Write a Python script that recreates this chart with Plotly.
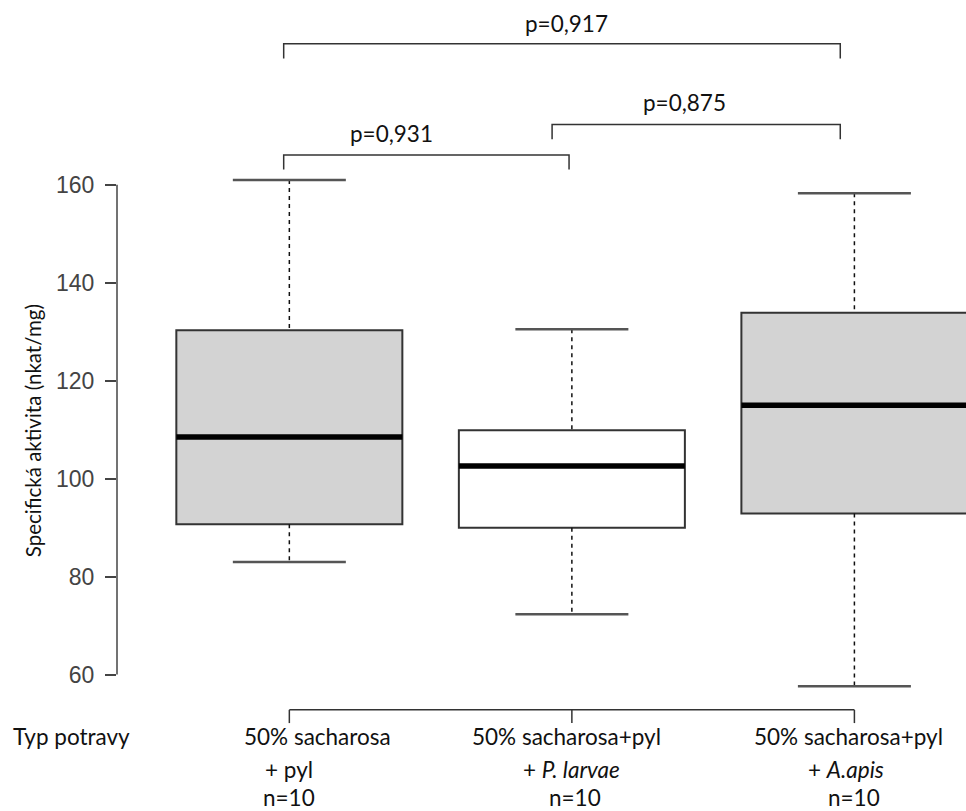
import plotly.graph_objects as go

# ---- data ----
group_line1 = ["50% sacharosa", "50% sacharosa+pyl", "50% sacharosa+pyl"]
group_line2 = ["+ pyl", "+ <i>P. larvae</i>", "+ <i>A.apis</i>"]
group_n = ["n=10", "n=10", "n=10"]
q1 = [90.7, 90.0, 92.9]
median = [108.5, 102.6, 115.0]
q3 = [130.3, 109.9, 133.9]
whisker_low = [83.0, 72.3, 57.6]
whisker_high = [161.0, 130.5, 158.3]
fill_colors = ["#D3D3D3", "#FFFFFF", "#D3D3D3"]
p_labels = ["p=0,931", "p=0,875", "p=0,917"]
y_ticks = [60, 80, 100, 120, 140, 160]

# ---- style constants ----
BOX_W = 0.8
CAP_W = 0.4
TXT_FONT = "Lato, 'Open Sans', sans-serif"
TICK_FONT = "'Liberation Sans', Arial, sans-serif"
LINE_C = "#333333"
TXT_SIZE = 22.5

fig = go.Figure()
xs = list(range(len(q1)))

# dashed whiskers
for i in xs:
    fig.add_trace(go.Scatter(
        x=[i, i, None, i, i],
        y=[whisker_high[i], q3[i], None, q1[i], whisker_low[i]],
        mode="lines", line=dict(color="#111111", width=1.5, dash="4px,4px"),
        hoverinfo="skip", showlegend=False))
    # staples
    fig.add_trace(go.Scatter(
        x=[i - CAP_W / 2, i + CAP_W / 2, None, i - CAP_W / 2, i + CAP_W / 2],
        y=[whisker_high[i], whisker_high[i], None, whisker_low[i], whisker_low[i]],
        mode="lines", line=dict(color="#555555", width=2.5),
        hoverinfo="skip", showlegend=False))

# boxes
for i in xs:
    fig.add_trace(go.Box(
        x=[i], q1=[q1[i]], median=[median[i]], q3=[q3[i]],
        lowerfence=[q1[i]], upperfence=[q3[i]],
        width=BOX_W, fillcolor=fill_colors[i],
        line=dict(color=LINE_C, width=2), whiskerwidth=0,
        boxpoints=False, hoverinfo="skip", showlegend=False))

# thick medians
for i in xs:
    fig.add_trace(go.Scatter(
        x=[i - BOX_W / 2, i + BOX_W / 2], y=[median[i], median[i]],
        mode="lines", line=dict(color="#000000", width=5.5),
        hoverinfo="skip", showlegend=False))

shapes = []
annotations = []

# y axis line (only over tick span)
shapes.append(dict(type="line", xref="paper", yref="y", x0=0, x1=0,
                   y0=min(y_ticks), y1=max(y_ticks),
                   line=dict(color="#444444", width=1.5)))

# comparison brackets: (start, end, bar height, leg drop, label, label x, label y)
brackets = [
    (-0.02, 0.99, 166.1, 3.0, p_labels[0], 0.36, 170.4),
    (0.93, 1.95, 172.3, 3.0, p_labels[1], 1.40, 176.8),
    (-0.02, 1.95, 188.8, 3.0, p_labels[2], 0.98, 192.9),
]
for a, b, h, d, lab, lx, ly in brackets:
    shapes.append(dict(type="path", xref="x", yref="y",
                       path=f"M {a},{h-d} L {a},{h} L {b},{h} L {b},{h-d}",
                       line=dict(color=LINE_C, width=1.5)))
    annotations.append(dict(x=lx, y=ly, xref="x", yref="y", text=lab,
                            showarrow=False, xanchor="center", yanchor="middle",
                            font=dict(family=TXT_FONT, size=TXT_SIZE, color="#111111")))

# bottom group axis
AX_Y = 52.8
AX_T = 2.7
shapes.append(dict(type="line", xref="x", yref="y", x0=xs[0], x1=xs[-1],
                   y0=AX_Y, y1=AX_Y, line=dict(color=LINE_C, width=1.5)))
for i in xs:
    shapes.append(dict(type="line", xref="x", yref="y", x0=i, x1=i,
                       y0=AX_Y, y1=AX_Y - AX_T, line=dict(color=LINE_C, width=1.5)))

line1_dx = [0.10, -0.02, -0.02]
line2_dx = [0.0, 0.0, -0.03]
line3_dx = [0.0, 0.01, 0.0]
for i in xs:
    for txt, dx, yy in [(group_line1[i], line1_dx[i], 47.3),
                        (group_line2[i], line2_dx[i], 40.6),
                        (group_n[i], line3_dx[i], 34.9)]:
        annotations.append(dict(x=i + dx, y=yy, xref="x", yref="y", text=txt,
                                showarrow=False, xanchor="center", yanchor="middle",
                                font=dict(family=TXT_FONT, size=TXT_SIZE, color="#111111")))

# labels left of the plot area (paper x: pixel offset from left margin / plot width)
PLOT_W = 966 - 117
annotations.append(dict(x=(71 - 117) / PLOT_W, y=47.3, xref="paper", yref="y",
                        text="Typ potravy",
                        showarrow=False, xanchor="center", yanchor="middle",
                        font=dict(family=TXT_FONT, size=TXT_SIZE, color="#111111")))

annotations.append(dict(x=(33 - 117) / PLOT_W, y=109.7, xref="paper", yref="y",
                        text="Specifická aktivita (nkat/mg)", textangle=-90,
                        showarrow=False, xanchor="center", yanchor="middle",
                        font=dict(family=TXT_FONT, size=20.5, color="#111111")))

fig.update_layout(
    width=966, height=811,
    margin=dict(l=117, r=0, t=0, b=0, pad=0),
    paper_bgcolor="white", plot_bgcolor="white",
    showlegend=False,
    shapes=shapes, annotations=annotations,
    xaxis=dict(range=[-0.61, 2.395], visible=False, showgrid=False, zeroline=False),
    yaxis=dict(range=[32.15, 197.73], tickvals=y_ticks, ticks="outside",
               ticklen=11, tickwidth=1.5, tickcolor="#444444",
               ticklabelstandoff=6,
               showline=False, showgrid=False, zeroline=False,
               tickfont=dict(family=TICK_FONT, size=23, color="#444444")),
)

fig.write_html("out.html")
